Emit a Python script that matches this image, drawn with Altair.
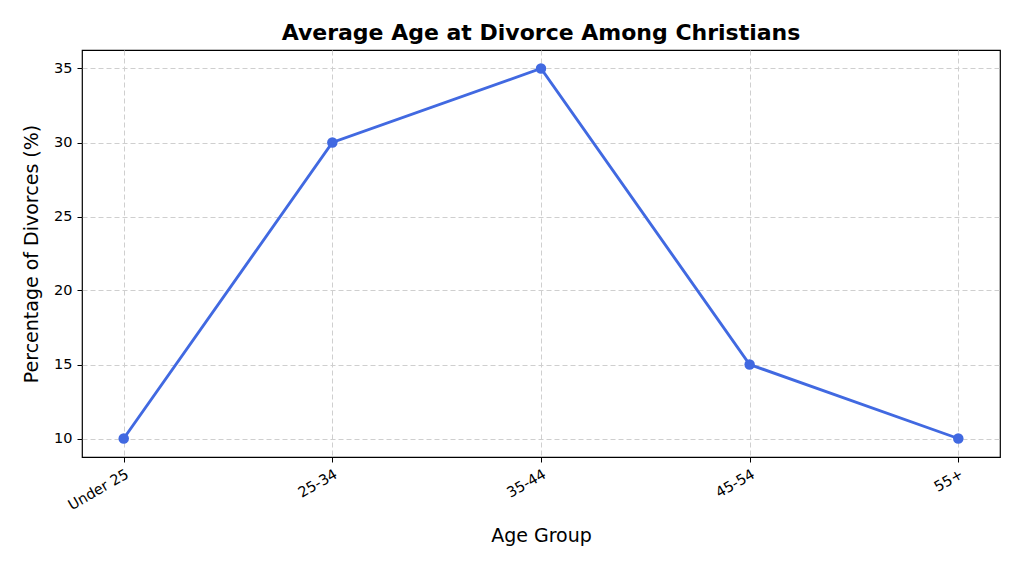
import altair as alt
import pandas as pd

age_groups = ["Under 25", "25-34", "35-44", "45-54", "55+"]
percentages = [10, 30, 35, 15, 10]

df = pd.DataFrame({"age": age_groups, "pct": percentages})

FONT = "DejaVu Sans"

x = alt.X(
    "age:N",
    sort=age_groups,
    scale=alt.Scale(type="point", padding=0.2),
    axis=alt.Axis(
        title="Age Group",
        titleFontSize=19,
        titleFontWeight="normal",
        titleColor="black",
        titlePadding=14,
        labelAngle=-30,
        labelAlign="right",
        labelBaseline="top",
        labelFontSize=14.5,
        labelColor="black",
        labelPadding=5,
        tickColor="black",
        tickSize=5,
        domain=False,
        grid=True,
        gridColor="#cfcfcf",
        gridDash=[5, 3],
        gridWidth=1,
    ),
)
y = alt.Y(
    "pct:Q",
    scale=alt.Scale(domain=[8.75, 36.25], nice=False, zero=False),
    axis=alt.Axis(
        title="Percentage of Divorces (%)",
        titleFontSize=19,
        titleFontWeight="normal",
        titleColor="black",
        titlePadding=12,
        values=[10, 15, 20, 25, 30, 35],
        labelFontSize=14.5,
        labelColor="black",
        labelPadding=5,
        tickColor="black",
        tickSize=5,
        domain=False,
        grid=True,
        gridColor="#cfcfcf",
        gridDash=[5, 3],
        gridWidth=1,
    ),
)

line = alt.Chart(df).mark_line(color="#4169E1", strokeWidth=2.9).encode(x=x, y=y)
pts = alt.Chart(df).mark_point(filled=True, color="#4169E1", size=110, opacity=1).encode(x=x, y=y)

chart = (
    alt.layer(line, pts)
    .properties(
        width=918,
        height=407,
        title=alt.TitleParams(
            "Average Age at Divorce Among Christians",
            fontSize=22,
            fontWeight="bold",
            font=FONT,
            color="black",
            anchor="middle",
            offset=5,
        ),
        autosize=alt.AutoSizeParams(type="none"),
        padding={"left": 74, "top": 42, "right": 16, "bottom": 96},
    )
    .configure(font=FONT)
    .configure_view(stroke="black", strokeWidth=1.2)
)

chart.save("out.html", embed_options={"renderer": "svg", "actions": False})
